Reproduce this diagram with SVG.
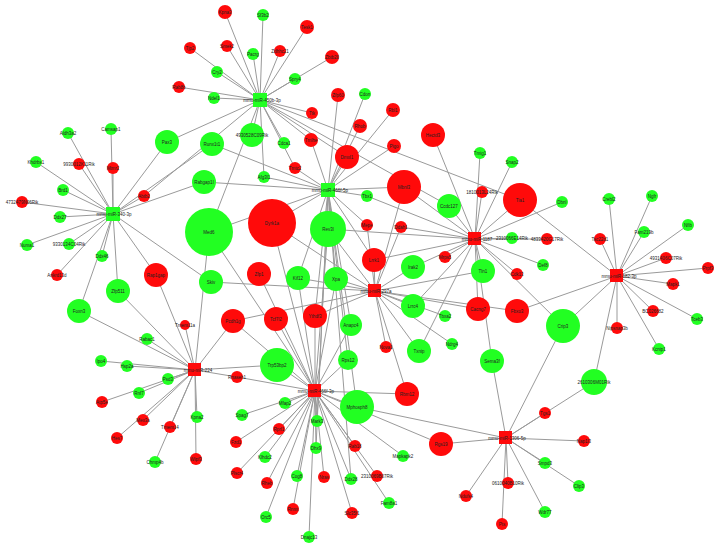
<svg xmlns="http://www.w3.org/2000/svg" width="721" height="548" viewBox="0 0 721 548">
<style>
.e line{stroke:#9a9a9a;stroke-width:1;fill:none}
.g{fill:#22ff22}
.r{fill:#ff0a0a}
text{font-family:"Liberation Sans",Arial,sans-serif;font-size:4.5px;fill:#222;text-anchor:middle}
</style>
<rect width="721" height="548" fill="#fff"/>
<g class="e" id="edges">
<!-- A -->
<line x1="260" y1="100" x2="225" y2="12"/><line x1="260" y1="100" x2="263" y2="15"/><line x1="260" y1="100" x2="307" y2="27"/><line x1="260" y1="100" x2="190" y2="48"/><line x1="260" y1="100" x2="227" y2="46"/><line x1="260" y1="100" x2="253" y2="54"/><line x1="260" y1="100" x2="280" y2="51"/><line x1="260" y1="100" x2="332" y2="57"/><line x1="260" y1="100" x2="217" y2="72"/><line x1="260" y1="100" x2="295" y2="79"/><line x1="260" y1="100" x2="179" y2="87"/><line x1="260" y1="100" x2="214" y2="98"/><line x1="260" y1="100" x2="167" y2="142"/><line x1="260" y1="100" x2="144" y2="196"/><line x1="260" y1="100" x2="209" y2="232"/><line x1="260" y1="100" x2="252" y2="135"/><line x1="260" y1="100" x2="284" y2="143"/><line x1="260" y1="100" x2="295" y2="168"/><line x1="260" y1="100" x2="264" y2="177"/><line x1="260" y1="100" x2="312" y2="113"/><line x1="260" y1="100" x2="311" y2="140"/><line x1="260" y1="100" x2="347" y2="157"/><line x1="260" y1="100" x2="520" y2="200"/><line x1="260" y1="100" x2="449" y2="206"/>
<!-- B -->
<line x1="328" y1="190" x2="204" y2="182"/><line x1="328" y1="190" x2="295" y2="168"/><line x1="328" y1="190" x2="264" y2="177"/><line x1="328" y1="190" x2="212" y2="144"/><line x1="328" y1="190" x2="311" y2="140"/><line x1="328" y1="190" x2="347" y2="157"/><line x1="328" y1="190" x2="338" y2="95"/><line x1="328" y1="190" x2="360" y2="126"/><line x1="328" y1="190" x2="365" y2="94"/><line x1="328" y1="190" x2="393" y2="110"/><line x1="328" y1="190" x2="394" y2="146"/><line x1="328" y1="190" x2="367" y2="196"/><line x1="328" y1="190" x2="404" y2="187"/><line x1="328" y1="190" x2="328" y2="229"/><line x1="328" y1="190" x2="272" y2="223"/><line x1="328" y1="190" x2="209" y2="232"/><line x1="328" y1="190" x2="336" y2="279"/><line x1="328" y1="190" x2="298" y2="278"/><line x1="328" y1="190" x2="348" y2="360"/><line x1="328" y1="190" x2="351" y2="325"/><line x1="328" y1="190" x2="315" y2="316"/><line x1="328" y1="190" x2="317" y2="421"/><line x1="328" y1="190" x2="316" y2="448"/><line x1="328" y1="190" x2="351" y2="479"/><line x1="328" y1="190" x2="357" y2="407"/><line x1="328" y1="190" x2="367" y2="225"/><line x1="328" y1="190" x2="374" y2="260"/>
<!-- C -->
<line x1="113" y1="214" x2="68" y2="133"/><line x1="113" y1="214" x2="111" y2="129"/><line x1="113" y1="214" x2="167" y2="142"/><line x1="113" y1="214" x2="36" y2="162"/><line x1="113" y1="214" x2="79" y2="164"/><line x1="113" y1="214" x2="113" y2="168"/><line x1="113" y1="214" x2="63" y2="190"/><line x1="113" y1="214" x2="22" y2="202"/><line x1="113" y1="214" x2="144" y2="196"/><line x1="113" y1="214" x2="60" y2="217"/><line x1="113" y1="214" x2="27" y2="245"/><line x1="113" y1="214" x2="69" y2="244"/><line x1="113" y1="214" x2="102" y2="256"/><line x1="113" y1="214" x2="57" y2="275"/><line x1="113" y1="214" x2="156" y2="275"/><line x1="113" y1="214" x2="118" y2="291"/><line x1="113" y1="214" x2="79" y2="311"/><line x1="113" y1="214" x2="212" y2="144"/><line x1="113" y1="214" x2="204" y2="182"/><line x1="113" y1="214" x2="211" y2="282"/>
<!-- D -->
<line x1="195" y1="370" x2="156" y2="275"/><line x1="195" y1="370" x2="118" y2="291"/><line x1="195" y1="370" x2="79" y2="311"/><line x1="195" y1="370" x2="147" y2="339"/><line x1="195" y1="370" x2="101" y2="361"/><line x1="195" y1="370" x2="127" y2="366"/><line x1="195" y1="370" x2="168" y2="379"/><line x1="195" y1="370" x2="139" y2="393"/><line x1="195" y1="370" x2="102" y2="402"/><line x1="195" y1="370" x2="143" y2="420"/><line x1="195" y1="370" x2="117" y2="438"/><line x1="195" y1="370" x2="170" y2="427"/><line x1="195" y1="370" x2="155" y2="462"/><line x1="195" y1="370" x2="197" y2="417"/><line x1="195" y1="370" x2="196" y2="459"/><line x1="195" y1="370" x2="185" y2="325"/><line x1="195" y1="370" x2="209" y2="232"/><line x1="195" y1="370" x2="233" y2="321"/><line x1="195" y1="370" x2="237" y2="377"/><line x1="195" y1="370" x2="277" y2="365"/>
<!-- E -->
<line x1="315" y1="391" x2="357" y2="407"/><line x1="315" y1="391" x2="237" y2="377"/><line x1="315" y1="391" x2="285" y2="403"/><line x1="315" y1="391" x2="242" y2="415"/><line x1="315" y1="391" x2="279" y2="429"/><line x1="315" y1="391" x2="317" y2="421"/><line x1="315" y1="391" x2="236" y2="442"/><line x1="315" y1="391" x2="265" y2="457"/><line x1="315" y1="391" x2="316" y2="448"/><line x1="315" y1="391" x2="355" y2="446"/><line x1="315" y1="391" x2="237" y2="473"/><line x1="315" y1="391" x2="267" y2="483"/><line x1="315" y1="391" x2="297" y2="476"/><line x1="315" y1="391" x2="324" y2="477"/><line x1="315" y1="391" x2="351" y2="479"/><line x1="315" y1="391" x2="266" y2="517"/><line x1="315" y1="391" x2="293" y2="509"/><line x1="315" y1="391" x2="352" y2="513"/><line x1="315" y1="391" x2="309" y2="537"/><line x1="315" y1="391" x2="277" y2="365"/><line x1="315" y1="391" x2="348" y2="360"/><line x1="315" y1="391" x2="351" y2="325"/><line x1="315" y1="391" x2="315" y2="316"/><line x1="315" y1="391" x2="276" y2="319"/><line x1="315" y1="391" x2="259" y2="274"/><line x1="315" y1="391" x2="272" y2="223"/><line x1="315" y1="391" x2="209" y2="232"/><line x1="315" y1="391" x2="328" y2="229"/><line x1="315" y1="391" x2="336" y2="279"/><line x1="315" y1="391" x2="298" y2="278"/><line x1="315" y1="391" x2="377" y2="476"/><line x1="315" y1="391" x2="389" y2="503"/><line x1="315" y1="391" x2="441" y2="444"/><line x1="315" y1="391" x2="407" y2="394"/><line x1="315" y1="391" x2="403" y2="456"/><line x1="315" y1="391" x2="233" y2="321"/>
<!-- F -->
<line x1="375" y1="291" x2="272" y2="223"/><line x1="375" y1="291" x2="211" y2="282"/><line x1="375" y1="291" x2="336" y2="279"/><line x1="375" y1="291" x2="298" y2="278"/><line x1="375" y1="291" x2="233" y2="321"/><line x1="375" y1="291" x2="328" y2="229"/><line x1="375" y1="291" x2="374" y2="260"/><line x1="375" y1="291" x2="413" y2="267"/><line x1="375" y1="291" x2="413" y2="306"/><line x1="375" y1="291" x2="483" y2="271"/><line x1="375" y1="291" x2="478" y2="309"/><line x1="375" y1="291" x2="517" y2="311"/><line x1="375" y1="291" x2="386" y2="347"/><line x1="375" y1="291" x2="419" y2="351"/><line x1="375" y1="291" x2="445" y2="316"/><line x1="375" y1="291" x2="452" y2="344"/><line x1="375" y1="291" x2="407" y2="394"/><line x1="375" y1="291" x2="404" y2="187"/><line x1="375" y1="291" x2="367" y2="225"/><line x1="375" y1="291" x2="401" y2="227"/><line x1="375" y1="291" x2="315" y2="316"/>
<!-- G -->
<line x1="475" y1="239" x2="433" y2="135"/><line x1="475" y1="239" x2="480" y2="153"/><line x1="475" y1="239" x2="512" y2="162"/><line x1="475" y1="239" x2="520" y2="200"/><line x1="475" y1="239" x2="449" y2="206"/><line x1="475" y1="239" x2="482" y2="192"/><line x1="475" y1="239" x2="512" y2="238"/><line x1="475" y1="239" x2="547" y2="239"/><line x1="475" y1="239" x2="562" y2="202"/><line x1="475" y1="239" x2="445" y2="257"/><line x1="475" y1="239" x2="483" y2="271"/><line x1="475" y1="239" x2="517" y2="274"/><line x1="475" y1="239" x2="478" y2="309"/><line x1="475" y1="239" x2="492" y2="361"/><line x1="475" y1="239" x2="404" y2="187"/><line x1="475" y1="239" x2="374" y2="260"/><line x1="475" y1="239" x2="413" y2="267"/><line x1="475" y1="239" x2="367" y2="196"/><line x1="475" y1="239" x2="328" y2="229"/><line x1="475" y1="239" x2="543" y2="265"/><line x1="475" y1="239" x2="563" y2="326"/><line x1="475" y1="239" x2="413" y2="306"/><line x1="475" y1="239" x2="419" y2="351"/><line x1="475" y1="239" x2="401" y2="227"/>
<!-- H -->
<line x1="617" y1="276" x2="609" y2="199"/><line x1="617" y1="276" x2="652" y2="196"/><line x1="617" y1="276" x2="688" y2="225"/><line x1="617" y1="276" x2="644" y2="232"/><line x1="617" y1="276" x2="600" y2="239"/><line x1="617" y1="276" x2="666" y2="258"/><line x1="617" y1="276" x2="708" y2="268"/><line x1="617" y1="276" x2="673" y2="284"/><line x1="617" y1="276" x2="653" y2="311"/><line x1="617" y1="276" x2="697" y2="319"/><line x1="617" y1="276" x2="617" y2="328"/><line x1="617" y1="276" x2="659" y2="349"/><line x1="617" y1="276" x2="563" y2="326"/><line x1="617" y1="276" x2="594" y2="382"/><line x1="617" y1="276" x2="520" y2="200"/><line x1="617" y1="276" x2="517" y2="311"/>
<!-- I -->
<line x1="506" y1="438" x2="594" y2="382"/><line x1="506" y1="438" x2="545" y2="413"/><line x1="506" y1="438" x2="584" y2="441"/><line x1="506" y1="438" x2="545" y2="463"/><line x1="506" y1="438" x2="579" y2="486"/><line x1="506" y1="438" x2="545" y2="512"/><line x1="506" y1="438" x2="466" y2="496"/><line x1="506" y1="438" x2="508" y2="483"/><line x1="506" y1="438" x2="502" y2="524"/><line x1="506" y1="438" x2="357" y2="407"/><line x1="506" y1="438" x2="492" y2="361"/><line x1="506" y1="438" x2="563" y2="326"/><line x1="506" y1="438" x2="441" y2="444"/>
</g>
<g id="nodes">
<g id="n1"><circle class="r" cx="225" cy="12" r="7"/><text x="225" y="13.5">Kpna3</text></g>
<g id="n2"><circle class="g" cx="263" cy="15" r="6"/><text x="263" y="16.5">Sf3b2</text></g>
<g id="n3"><circle class="r" cx="307" cy="27" r="7"/><text x="307" y="28.5">Tesk1</text></g>
<g id="n4"><circle class="r" cx="190" cy="48" r="6"/><text x="190" y="49.5">Tjp2</text></g>
<g id="n5"><circle class="r" cx="227" cy="46" r="6"/><text x="227" y="47.5">Smek2</text></g>
<g id="n6"><circle class="g" cx="253" cy="54" r="6"/><text x="253" y="55.5">Pacrg</text></g>
<g id="n7"><circle class="r" cx="280" cy="51" r="6"/><text x="280" y="52.5">Zdhhc21</text></g>
<g id="n8"><circle class="r" cx="332" cy="57" r="7"/><text x="332" y="58.5">Zbtb20</text></g>
<g id="n9"><circle class="g" cx="217" cy="72" r="6"/><text x="217" y="73.5">Cry2</text></g>
<g id="n10"><circle class="g" cx="295" cy="79" r="6"/><text x="295" y="80.5">Spry4</text></g>
<g id="n11"><circle class="r" cx="179" cy="87" r="6"/><text x="179" y="88.5">Rab8b</text></g>
<g id="n12"><circle class="g" cx="214" cy="98" r="6"/><text x="214" y="99.5">Ndel1</text></g>
<g id="n13"><circle class="g" cx="212" cy="144" r="12"/><text x="212" y="145.5">Runx1t1</text></g>
<g id="n14"><circle class="g" cx="252" cy="135" r="12"/><text x="252" y="136.5">4930528C09Rik</text></g>
<g id="n15"><circle class="g" cx="284" cy="143" r="6"/><text x="284" y="144.5">Cdca1</text></g>
<g id="n16"><circle class="r" cx="295" cy="168" r="6"/><text x="295" y="169.5">Tmtc2</text></g>
<g id="n17"><circle class="g" cx="264" cy="177" r="6"/><text x="264" y="178.5">Afg3l1</text></g>
<g id="n18"><circle class="g" cx="204" cy="182" r="12"/><text x="204" y="183.5">Rabgap1l</text></g>
<g id="n19"><circle class="r" cx="312" cy="113" r="6"/><text x="312" y="114.5">Ttk</text></g>
<g id="n20"><circle class="r" cx="311" cy="140" r="7"/><text x="311" y="141.5">Tmlhe</text></g>
<g id="n21"><circle class="r" cx="347" cy="157" r="12"/><text x="347" y="158.5">Dmxl1</text></g>
<g id="n22"><circle class="r" cx="338" cy="95" r="7"/><text x="338" y="96.5">Zfp60</text></g>
<g id="n23"><circle class="r" cx="360" cy="126" r="7"/><text x="360" y="127.5">Rhob</text></g>
<g id="n24"><circle class="g" cx="365" cy="94" r="6"/><text x="365" y="95.5">Cdon</text></g>
<g id="n25"><circle class="r" cx="393" cy="110" r="7"/><text x="393" y="111.5">Rbl1</text></g>
<g id="n26"><circle class="r" cx="394" cy="146" r="7"/><text x="394" y="147.5">Pigo</text></g>
<g id="n27"><circle class="r" cx="433" cy="135" r="12"/><text x="433" y="136.5">Hectd3</text></g>
<g id="n28"><circle class="g" cx="480" cy="153" r="6"/><text x="480" y="154.5">Tmig1</text></g>
<g id="n29"><circle class="g" cx="512" cy="162" r="6"/><text x="512" y="163.5">Snap2</text></g>
<g id="n30"><circle class="g" cx="68" cy="133" r="6"/><text x="68" y="134.5">Aldh3a2</text></g>
<g id="n31"><circle class="g" cx="111" cy="129" r="6"/><text x="111" y="130.5">Camsap1</text></g>
<g id="n32"><circle class="g" cx="167" cy="142" r="12"/><text x="167" y="143.5">Pax3</text></g>
<g id="n33"><circle class="g" cx="36" cy="162" r="6"/><text x="36" y="163.5">Khdrbs1</text></g>
<g id="n34"><circle class="r" cx="79" cy="164" r="6"/><text x="79" y="165.5">9930012K11Rik</text></g>
<g id="n35"><circle class="r" cx="113" cy="168" r="6"/><text x="113" y="169.5">Mtmr2</text></g>
<g id="n36"><circle class="g" cx="63" cy="190" r="6"/><text x="63" y="191.5">Brd1</text></g>
<g id="n37"><circle class="r" cx="22" cy="202" r="6"/><text x="22" y="203.5">4732479N06Rik</text></g>
<g id="n38"><circle class="r" cx="144" cy="196" r="6"/><text x="144" y="197.5">Abtb2</text></g>
<g id="n39"><circle class="g" cx="60" cy="217" r="6"/><text x="60" y="218.5">Ddx27</text></g>
<g id="n40"><circle class="g" cx="27" cy="245" r="6"/><text x="27" y="246.5">Numa1</text></g>
<g id="n41"><circle class="g" cx="69" cy="244" r="6"/><text x="69" y="245.5">9330134C04Rik</text></g>
<g id="n42"><circle class="g" cx="102" cy="256" r="6"/><text x="102" y="257.5">Ddx46</text></g>
<g id="n43"><circle class="r" cx="57" cy="275" r="6"/><text x="57" y="276.5">Ankrd13d</text></g>
<g id="n44"><circle class="r" cx="156" cy="275" r="12"/><text x="156" y="276.5">Rap1gap</text></g>
<g id="n45"><circle class="g" cx="118" cy="291" r="12"/><text x="118" y="292.5">Zfp511</text></g>
<g id="n46"><circle class="g" cx="79" cy="311" r="12"/><text x="79" y="312.5">Foxn3</text></g>
<g id="n47"><circle class="g" cx="147" cy="339" r="6"/><text x="147" y="340.5">Rabac1</text></g>
<g id="n48"><circle class="g" cx="101" cy="361" r="6"/><text x="101" y="362.5">Ipo4</text></g>
<g id="n49"><circle class="g" cx="127" cy="366" r="6"/><text x="127" y="367.5">Hsp2a</text></g>
<g id="n50"><circle class="g" cx="168" cy="379" r="6"/><text x="168" y="380.5">Psd3</text></g>
<g id="n51"><circle class="g" cx="139" cy="393" r="6"/><text x="139" y="394.5">Rnf7</text></g>
<g id="n52"><circle class="r" cx="102" cy="402" r="6"/><text x="102" y="403.5">Atp5e</text></g>
<g id="n53"><circle class="r" cx="143" cy="420" r="6"/><text x="143" y="421.5">Mex3a</text></g>
<g id="n54"><circle class="r" cx="117" cy="438" r="6"/><text x="117" y="439.5">Hes7</text></g>
<g id="n55"><circle class="r" cx="170" cy="427" r="6"/><text x="170" y="428.5">Tmem14</text></g>
<g id="n56"><circle class="g" cx="155" cy="462" r="6"/><text x="155" y="463.5">Chmp4b</text></g>
<g id="n57"><circle class="g" cx="197" cy="417" r="6"/><text x="197" y="418.5">Kpna2</text></g>
<g id="n58"><circle class="r" cx="196" cy="459" r="6"/><text x="196" y="460.5">Wipf3</text></g>
<g id="n59"><circle class="r" cx="185" cy="325" r="5"/><text x="185" y="326.5">Tmem11a</text></g>
<g id="n60"><circle class="g" cx="209" cy="232" r="24"/><text x="209" y="233.5">Med6</text></g>
<g id="n61"><circle class="r" cx="272" cy="223" r="24"/><text x="272" y="224.5">Dyrk1a</text></g>
<g id="n62"><circle class="g" cx="328" cy="229" r="18"/><text x="328" y="230.5">Rev3l</text></g>
<g id="n63"><circle class="r" cx="259" cy="274" r="12"/><text x="259" y="275.5">Zfp1</text></g>
<g id="n64"><circle class="g" cx="298" cy="278" r="12"/><text x="298" y="279.5">Kif12</text></g>
<g id="n65"><circle class="g" cx="336" cy="279" r="12"/><text x="336" y="280.5">Xpa</text></g>
<g id="n66"><circle class="g" cx="211" cy="282" r="12"/><text x="211" y="283.5">Skiv</text></g>
<g id="n67"><circle class="r" cx="233" cy="321" r="12"/><text x="233" y="322.5">Pcdh1g</text></g>
<g id="n68"><circle class="r" cx="276" cy="319" r="12"/><text x="276" y="320.5">Tcf7l2</text></g>
<g id="n69"><circle class="r" cx="315" cy="316" r="12"/><text x="315" y="317.5">Ythdf3</text></g>
<g id="n70"><circle class="g" cx="351" cy="325" r="11"/><text x="351" y="326.5">Anapc4</text></g>
<g id="n71"><circle class="g" cx="348" cy="360" r="10"/><text x="348" y="361.5">Rps12</text></g>
<g id="n72"><circle class="g" cx="277" cy="365" r="17"/><text x="277" y="366.5">Trp53bp2</text></g>
<g id="n73"><circle class="r" cx="404" cy="187" r="17"/><text x="404" y="188.5">Mbnl3</text></g>
<g id="n74"><circle class="g" cx="367" cy="196" r="6"/><text x="367" y="197.5">Tbx1</text></g>
<g id="n75"><circle class="g" cx="449" cy="206" r="12"/><text x="449" y="207.5">Ccdc127</text></g>
<g id="n76"><circle class="r" cx="482" cy="192" r="6"/><text x="482" y="193.5">1810013L24Rik</text></g>
<g id="n77"><circle class="r" cx="520" cy="200" r="17"/><text x="520" y="201.5">Tia1</text></g>
<g id="n78"><circle class="r" cx="367" cy="225" r="6"/><text x="367" y="226.5">Mepe</text></g>
<g id="n79"><circle class="r" cx="401" cy="227" r="6"/><text x="401" y="228.5">Ddah1</text></g>
<g id="n80"><circle class="g" cx="512" cy="238" r="6"/><text x="512" y="239.5">2310066E14Rik</text></g>
<g id="n81"><circle class="r" cx="374" cy="260" r="12"/><text x="374" y="261.5">Lrrk1</text></g>
<g id="n82"><circle class="g" cx="413" cy="267" r="12"/><text x="413" y="268.5">Irak2</text></g>
<g id="n83"><circle class="r" cx="445" cy="257" r="6"/><text x="445" y="258.5">Mrps5</text></g>
<g id="n84"><circle class="g" cx="483" cy="271" r="12"/><text x="483" y="272.5">Tln1</text></g>
<g id="n85"><circle class="r" cx="517" cy="274" r="6"/><text x="517" y="275.5">Cdk13</text></g>
<g id="n86"><circle class="g" cx="413" cy="306" r="12"/><text x="413" y="307.5">Lrrc4</text></g>
<g id="n87"><circle class="g" cx="445" cy="316" r="6"/><text x="445" y="317.5">Tbxa2</text></g>
<g id="n88"><circle class="r" cx="478" cy="309" r="12"/><text x="478" y="310.5">Cacng7</text></g>
<g id="n89"><circle class="r" cx="517" cy="311" r="12"/><text x="517" y="312.5">Fbxo3</text></g>
<g id="n90"><circle class="g" cx="452" cy="344" r="6"/><text x="452" y="345.5">Ndrg4</text></g>
<g id="n91"><circle class="r" cx="386" cy="347" r="6"/><text x="386" y="348.5">Nova1</text></g>
<g id="n92"><circle class="g" cx="419" cy="351" r="12"/><text x="419" y="352.5">Txnip</text></g>
<g id="n93"><circle class="g" cx="492" cy="361" r="12"/><text x="492" y="362.5">Sema3f</text></g>
<g id="n95"><circle class="g" cx="562" cy="202" r="6"/><text x="562" y="203.5">Dbnl</text></g>
<g id="n96"><circle class="g" cx="609" cy="199" r="6"/><text x="609" y="200.5">Crebl2</text></g>
<g id="n97"><circle class="g" cx="652" cy="196" r="6"/><text x="652" y="197.5">Ngfr</text></g>
<g id="n98"><circle class="g" cx="688" cy="225" r="6"/><text x="688" y="226.5">Nfib</text></g>
<g id="n99"><circle class="g" cx="644" cy="232" r="6"/><text x="644" y="233.5">Fam219b</text></g>
<g id="n100"><circle class="r" cx="547" cy="239" r="6"/><text x="547" y="240.5">4833420G17Rik</text></g>
<g id="n101"><circle class="r" cx="600" cy="239" r="6"/><text x="600" y="240.5">Tsc22d1</text></g>
<g id="n102"><circle class="r" cx="666" cy="258" r="6"/><text x="666" y="259.5">4931406C07Rik</text></g>
<g id="n103"><circle class="r" cx="708" cy="268" r="6"/><text x="708" y="269.5">Prpf3</text></g>
<g id="n104"><circle class="g" cx="543" cy="265" r="6"/><text x="543" y="266.5">Def8</text></g>
<g id="n105"><circle class="r" cx="673" cy="284" r="6"/><text x="673" y="285.5">Mapk1</text></g>
<g id="n106"><circle class="r" cx="653" cy="311" r="6"/><text x="653" y="312.5">BC026682</text></g>
<g id="n107"><circle class="g" cx="697" cy="319" r="6"/><text x="697" y="320.5">Tceb3</text></g>
<g id="n108"><circle class="g" cx="563" cy="326" r="17"/><text x="563" y="327.5">Crip3</text></g>
<g id="n109"><circle class="r" cx="617" cy="328" r="6"/><text x="617" y="329.5">Nipsnap3b</text></g>
<g id="n110"><circle class="g" cx="659" cy="349" r="6"/><text x="659" y="350.5">Kcnip1</text></g>
<g id="n111"><circle class="g" cx="594" cy="382" r="13"/><text x="594" y="383.5">2610306M01Rik</text></g>
<g id="n112"><circle class="r" cx="545" cy="413" r="6"/><text x="545" y="414.5">Tgs1</text></g>
<g id="n113"><circle class="r" cx="584" cy="441" r="6"/><text x="584" y="442.5">Nap1l3</text></g>
<g id="n114"><circle class="g" cx="545" cy="463" r="6"/><text x="545" y="464.5">Smpd3</text></g>
<g id="n115"><circle class="g" cx="579" cy="486" r="6"/><text x="579" y="487.5">Clip3</text></g>
<g id="n116"><circle class="g" cx="545" cy="512" r="6"/><text x="545" y="513.5">Wdr77</text></g>
<g id="n117"><circle class="r" cx="441" cy="444" r="12"/><text x="441" y="445.5">Rgs19</text></g>
<g id="n118"><circle class="r" cx="407" cy="394" r="12"/><text x="407" y="395.5">Rbm12</text></g>
<g id="n119"><circle class="g" cx="403" cy="456" r="6"/><text x="403" y="457.5">Mapkapk2</text></g>
<g id="n120"><circle class="r" cx="377" cy="476" r="6"/><text x="377" y="477.5">2310069B07Rik</text></g>
<g id="n121"><circle class="g" cx="389" cy="503" r="6"/><text x="389" y="504.5">Fam8a1</text></g>
<g id="n122"><circle class="r" cx="466" cy="496" r="6"/><text x="466" y="497.5">Ndufs4</text></g>
<g id="n123"><circle class="r" cx="508" cy="483" r="6"/><text x="508" y="484.5">0610040B10Rik</text></g>
<g id="n124"><circle class="r" cx="502" cy="524" r="6"/><text x="502" y="525.5">Pts</text></g>
<g id="n126"><circle class="g" cx="357" cy="407" r="17"/><text x="357" y="408.5">Mphosph8</text></g>
<g id="n127"><circle class="r" cx="237" cy="377" r="6"/><text x="237" y="378.5">Rnaseh1</text></g>
<g id="n128"><circle class="g" cx="285" cy="403" r="6"/><text x="285" y="404.5">Mfap2</text></g>
<g id="n129"><circle class="g" cx="242" cy="415" r="6"/><text x="242" y="416.5">Spag7</text></g>
<g id="n130"><circle class="r" cx="279" cy="429" r="6"/><text x="279" y="430.5">Rprl1</text></g>
<g id="n131"><circle class="g" cx="317" cy="421" r="6"/><text x="317" y="422.5">Mark3</text></g>
<g id="n132"><circle class="r" cx="236" cy="442" r="6"/><text x="236" y="443.5">Fzd1</text></g>
<g id="n133"><circle class="g" cx="265" cy="457" r="6"/><text x="265" y="458.5">Klhdc2</text></g>
<g id="n134"><circle class="g" cx="316" cy="448" r="6"/><text x="316" y="449.5">Dhx9</text></g>
<g id="n135"><circle class="r" cx="355" cy="446" r="6"/><text x="355" y="447.5">Rab18</text></g>
<g id="n136"><circle class="r" cx="237" cy="473" r="6"/><text x="237" y="474.5">Plscr4</text></g>
<g id="n137"><circle class="r" cx="267" cy="483" r="6"/><text x="267" y="484.5">Rheb</text></g>
<g id="n138"><circle class="g" cx="297" cy="476" r="6"/><text x="297" y="477.5">Cog8</text></g>
<g id="n139"><circle class="r" cx="324" cy="477" r="6"/><text x="324" y="478.5">Nras</text></g>
<g id="n140"><circle class="g" cx="351" cy="479" r="6"/><text x="351" y="480.5">Ddx28</text></g>
<g id="n141"><circle class="g" cx="266" cy="517" r="6"/><text x="266" y="518.5">Orc5</text></g>
<g id="n142"><circle class="r" cx="293" cy="509" r="6"/><text x="293" y="510.5">Rnmt</text></g>
<g id="n143"><circle class="r" cx="352" cy="513" r="6"/><text x="352" y="514.5">Slc35f1</text></g>
<g id="n144"><circle class="g" cx="309" cy="537" r="6"/><text x="309" y="538.5">Dnajc13</text></g>
</g>
<g id="hubs">
<g id="hubA"><rect class="g" x="253" y="93" width="14" height="14"/><text x="262" y="101.5">mmu-miR-450b-3p</text></g>
<g id="hubB"><rect class="g" x="321" y="183" width="14" height="14"/><text x="330" y="191.5">mmu-miR-466f-5p</text></g>
<g id="hubC"><rect class="g" x="106" y="207" width="14" height="14"/><text x="114" y="215.5">mmu-miR-340-3p</text></g>
<g id="hubD"><rect class="r" x="188" y="363" width="13" height="13"/><text x="198" y="371.5">mmu-miR-224</text></g>
<g id="hubE"><rect class="r" x="308" y="384" width="13" height="13"/><text x="316" y="392.5">mmu-miR-466f-3p</text></g>
<g id="hubF"><rect class="r" x="368" y="284" width="13" height="13"/><text x="376" y="292.5">mmu-miR-297a</text></g>
<g id="hubG"><rect class="r" x="468" y="232" width="13" height="13"/><text x="477" y="240.5">mmu-miR-1187</text></g>
<g id="hubH"><rect class="r" x="610" y="269" width="13" height="13"/><text x="619" y="277.5">mmu-miR-182-3p</text></g>
<g id="hubI"><rect class="r" x="499" y="431" width="13" height="13"/><text x="507" y="439.5">mmu-miR-1306-5p</text></g>
</g>
</svg>
